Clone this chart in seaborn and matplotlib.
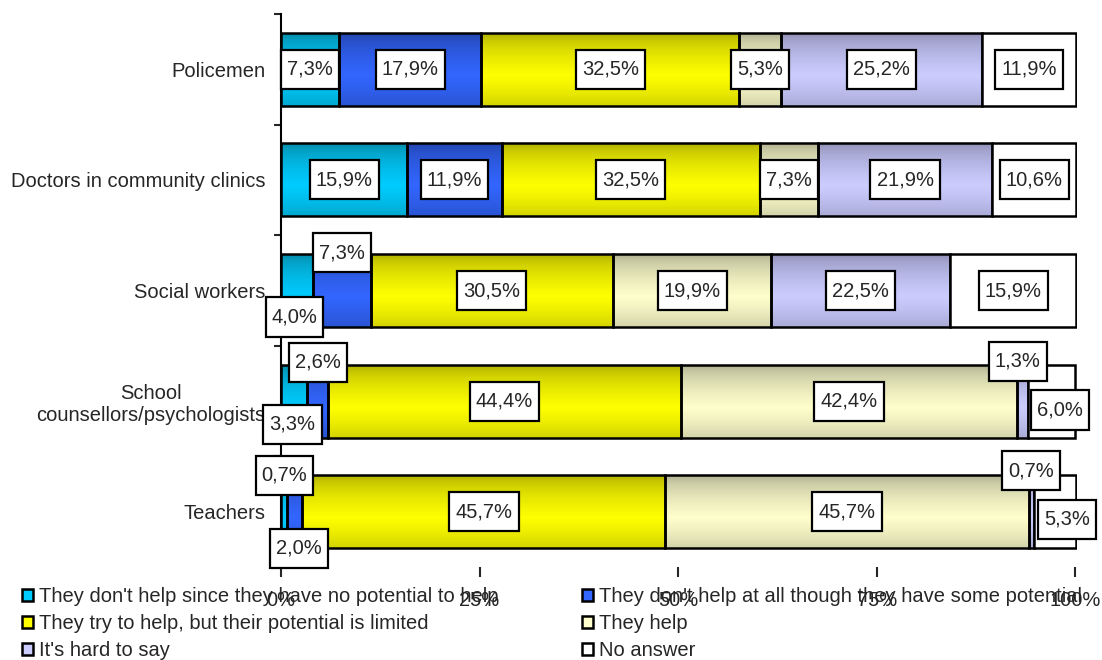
import numpy as np
import matplotlib
matplotlib.use("Agg")
import matplotlib.pyplot as plt
import matplotlib.colors as mcolors
from matplotlib.patches import Rectangle
from matplotlib.path import Path
import seaborn as sns

sns.set_style("white")
plt.rcParams['font.family'] = ['Liberation Sans', 'DejaVu Sans']

# Data
categories = ["Policemen", "Doctors in community clinics", "Social workers",
              "School\ncounsellors/psychologists", "Teachers"]
series_names = ["They don't help since they have no potential to help",
                "They don't help at all though they have some potential",
                "They try to help, but their potential is limited",
                "They help",
                "It's hard to say",
                "No answer"]
no_potential = [7.3, 15.9, 4.0, 3.3, 0.7]
some_potential = [17.9, 11.9, 7.3, 2.6, 2.0]
limited = [32.5, 32.5, 30.5, 44.4, 45.7]
they_help = [5.3, 7.3, 19.9, 42.4, 45.7]
hard_to_say = [25.2, 21.9, 22.5, 1.3, 0.7]
no_answer = [11.9, 10.6, 15.9, 6.0, 5.3]
series_values = [no_potential, some_potential, limited, they_help, hard_to_say, no_answer]
x_ticks = [0, 25, 50, 75, 100]
x_tick_labels = ["0%", "25%", "50%", "75%", "100%"]

# colours: (dark edge of gradient, light centre)
grad_colors = [("#06819c", "#00ccff"),
               ("#1f3fa0", "#3366ff"),
               ("#a3a300", "#ffff00"),
               ("#a4a488", "#ffffcc"),
               ("#8585ab", "#ccccff"),
               ("#ffffff", "#ffffff")]

# label nudges for thin segments: (category idx, series idx) -> (dx %, dy category units)
label_nudge = {(2, 0): (-0.3, 0.24), (2, 1): (0.0, -0.34),
               (3, 0): (-0.2, 0.21), (3, 1): (0.0, -0.35),
               (4, 0): (0.1, -0.33), (4, 1): (0.6, 0.33),
               (3, 4): (-0.6, -0.36), (3, 5): (1.1, 0.08),
               (4, 4): (0.0, -0.37), (4, 5): (1.5, 0.07)}

FS = 14.5


def label_box(x0, y0, width, height, mutation_size):
    # square box, more padding top/bottom than left/right
    px = 0.3 * mutation_size
    py = 0.5 * mutation_size
    a, b = x0 - px, y0 - py
    c, d = x0 + width + px, y0 + height + py
    return Path([(a, b), (c, b), (c, d), (a, d), (a, b)], closed=True)


def gradient_fill(ax, patch, dark, light):
    x0, y0 = patch.get_x(), patch.get_y()
    w, h = patch.get_width(), patch.get_height()
    t = np.linspace(0, 1, 80)
    prof = np.clip(1 - np.abs(t - 0.58) / 0.58, 0, 1) ** 0.5
    c0 = np.array(mcolors.to_rgb(dark))
    c1 = np.array(mcolors.to_rgb(light))
    img = (c0 + (c1 - c0) * prof[:, None])[:, None, :]
    im = ax.imshow(img, extent=(x0, x0 + w, y0 + h, y0), origin='upper',
                   aspect='auto', interpolation='bilinear', zorder=1)
    im.set_clip_path(patch)


fig = plt.figure(figsize=(11.02, 6.6), dpi=100)
ax = fig.add_axes([281 / 1102, 1 - 567 / 660, 796 / 1102, 553 / 660])

lefts = np.zeros(len(categories))
for i, vals in enumerate(series_values):
    n_before = len(ax.patches)
    sns.barplot(x=vals, y=categories, left=lefts.copy(), orient='h',
                color=grad_colors[i][1], saturation=1, width=0.66,
                edgecolor='black', linewidth=1.8, errorbar=None, ax=ax)
    for p in ax.patches[n_before:]:
        if i < 5:
            gradient_fill(ax, p, *grad_colors[i])
            p.set_facecolor('none')
        p.set_zorder(2)
    for j, v in enumerate(vals):
        dx, dy = label_nudge.get((j, i), (0, 0))
        ax.text(lefts[j] + v / 2 + dx, j + dy, f"{v:.1f}%".replace('.', ','),
                ha='center', va='center', fontsize=FS, zorder=5,
                bbox=dict(boxstyle=label_box, fc='white', ec='black', lw=1.6))
    lefts += np.array(vals)

ax.set_xlim(0, 100.2)
ax.set_ylim(4.5, -0.5)
ax.set_xticks(x_ticks)
ax.set_xticklabels(x_tick_labels, fontsize=FS)
ax.set_yticks(range(len(categories)))
ax.set_yticklabels(categories, fontsize=FS, multialignment='center')
ax.set_yticks(np.arange(-0.5, len(categories), 1), minor=True)
ax.tick_params(axis='y', which='major', length=0, pad=11)
ax.tick_params(axis='y', which='minor', length=5, width=1.5, direction='out', left=True)
ax.tick_params(axis='x', length=7, width=1.5, direction='out', bottom=True, pad=10)
ax.set_xlabel('')
ax.set_ylabel('')
for s in ['top', 'right', 'bottom']:
    ax.spines[s].set_visible(False)
ax.spines['left'].set_color('black')
ax.spines['left'].set_linewidth(1.5)

handles = [Rectangle((0, 0), 1, 1, fc=c[1], ec='black', lw=1.8) for c in grad_colors]
leg_kw = dict(loc='upper left', frameon=False, fontsize=FS, handlelength=0.55,
              handleheight=0.55, handletextpad=0.3, labelspacing=0.4,
              borderpad=0, borderaxespad=0)
fig.legend(handles[0::2], series_names[0::2], bbox_to_anchor=(22 / 1102, 1 - 587 / 660), **leg_kw)
fig.legend(handles[1::2], series_names[1::2], bbox_to_anchor=(582 / 1102, 1 - 587 / 660), **leg_kw)

fig.savefig("out.png", dpi=100)
